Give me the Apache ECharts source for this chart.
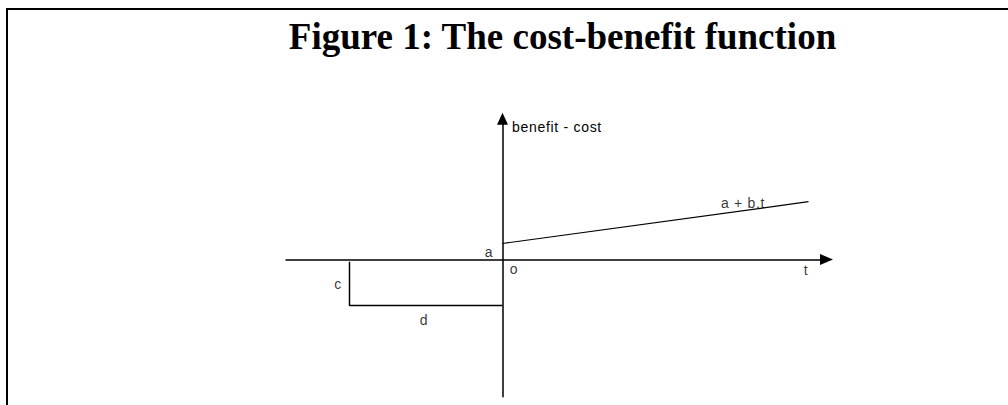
<!DOCTYPE html>
<html>
<head>
<meta charset="utf-8">
<script src="https://cdn.jsdelivr.net/npm/echarts@6/dist/echarts.min.js"></script>
<style>
  html, body { margin: 0; padding: 0; background: #fff; }
  #chart { width: 1008px; height: 405px; }
  /* the small labels in the original are slightly letter-spaced */
  #chart svg text { letter-spacing: 0.7px; }
  #chart svg text[style*="bold"] { letter-spacing: 0; }
</style>
</head>
<body>
<div id="chart"></div>
<script>
// axis extents (t horizontally, benefit - cost vertically)
var tRange = [-216.5, 324];
var valueRange = [-137.2, 140.8];

// benefit line a + b.t, from t = 0 to the end of the drawing
var benefitLine = [[0, 16], [306, 57.8]];

// cost bracket: height c, duration d, before t = 0
var costBracket = [[-153, -2.2], [-153, -46], [0, -46]];

// text labels placed in data units
var labelNames = ['a', 'o', 'c', 'd', 't', 'a + b.t'];
var labelPoints = [[-13.5, 8], [11.5, -9.5], [-164.5, -24.5], [-78.5, -60.5], [303.5, -10.5], [240.5, 56.5]];

var myChart = echarts.init(document.getElementById('chart'), null, { renderer: 'svg' });

var labelData = [];
for (var i = 0; i < labelNames.length; i++) {
    labelData.push({ name: labelNames[i], value: labelPoints[i] });
}

var lineStyle = { color: '#000', width: 1.5 };

var options = {
    backgroundColor: '#fff',
    animation: false,
    textStyle: { fontFamily: 'Liberation Sans, Arial, sans-serif' },
    grid: { left: 286, right: 181.5, top: 118.7, bottom: 8.3 },
    xAxis: {
        type: 'value',
        min: tRange[0],
        max: tRange[1],
        axisLine: {
            onZero: true,
            symbol: ['none', 'triangle'],
            symbolSize: [11, 13],
            lineStyle: lineStyle
        },
        axisTick: { show: false },
        axisLabel: { show: false },
        splitLine: { show: false }
    },
    yAxis: {
        type: 'value',
        min: valueRange[0],
        max: valueRange[1],
        name: 'benefit - cost',
        nameLocation: 'end',
        nameGap: -8.3,
        nameTextStyle: {
            color: '#000',
            fontSize: 14,
            align: 'left',
            verticalAlign: 'middle',
            padding: [0, 0, 0, 9.5]
        },
        axisLine: {
            onZero: true,
            symbol: ['none', 'triangle'],
            symbolSize: [11, 12],
            lineStyle: lineStyle
        },
        axisTick: { show: false },
        axisLabel: { show: false },
        splitLine: { show: false }
    },
    graphic: [
        // frame (top and left edges)
        { type: 'line', shape: { x1: 6, y1: 9, x2: 1008, y2: 9 }, style: { stroke: '#000', lineWidth: 2 } },
        { type: 'line', shape: { x1: 7, y1: 8, x2: 7, y2: 405 }, style: { stroke: '#000', lineWidth: 2 } },
        {
            type: 'text',
            x: 562.5,
            y: 36,
            style: {
                text: 'Figure 1: The cost-benefit function',
                fill: '#000',
                font: 'bold 37px "Liberation Serif", "Times New Roman", serif',
                textAlign: 'center',
                textVerticalAlign: 'middle'
            }
        }
    ],
    series: [
        {
            name: 'benefit',
            type: 'line',
            data: benefitLine,
            symbol: 'none',
            lineStyle: { color: '#000', width: 1.2 },
            silent: true
        },
        {
            name: 'cost',
            type: 'line',
            data: costBracket,
            symbol: 'none',
            lineStyle: { color: '#000', width: 1.5 },
            silent: true
        },
        {
            name: 'labels',
            type: 'scatter',
            data: labelData,
            symbolSize: 0,
            itemStyle: { color: 'transparent' },
            silent: true,
            label: {
                show: true,
                position: 'inside',
                color: '#000',
                fontSize: 14,
                formatter: '{b}'
            }
        }
    ]
};
myChart.setOption(options);
</script>
</body>
</html>
